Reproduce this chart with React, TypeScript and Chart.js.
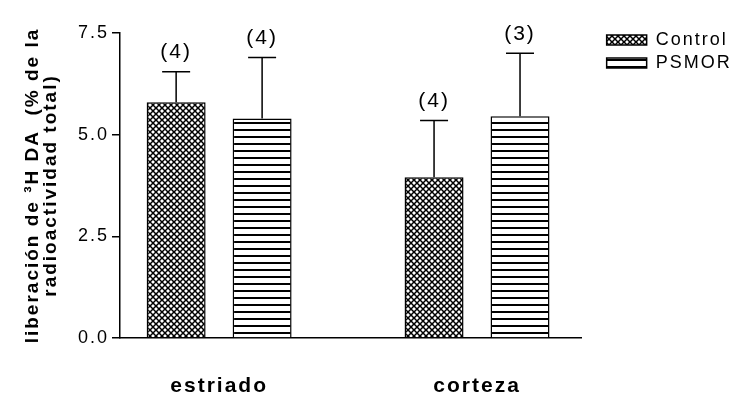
import React, { useEffect, useRef } from "react";
import { Chart, registerables } from "chart.js";

Chart.register(...registerables);

// ---- data ----
const categories = ["estriado", "corteza"];
const seriesLabels = ["Control", "PSMOR"];
const controlValues = [5.8, 3.95];
const controlErrors = [0.75, 1.4];
const controlN = ["(4)", "(4)"];
const psmorValues = [5.4, 5.45];
const psmorErrors = [1.5, 1.55];
const psmorN = ["(4)", "(3)"];
const yTickValues = [0, 2.5, 5, 7.5];
const yAxisTitle = ["liberación de ³H DA  (% de la", "radioactividad total)"];

const FONT = '"Liberation Sans", Arial, Helvetica, sans-serif';
const SPACING = "2px";

// slot on the linear x scale: group g, series s
const slot = (g: number, s: number) => g * 3 + s + 1;
const groupCenter = (g: number) => g * 3 + 1.5;

function makeCrossHatch(): CanvasPattern | string {
  const c = document.createElement("canvas");
  c.width = 6;
  c.height = 6;
  const g = c.getContext("2d");
  if (!g) return "#888";
  g.fillStyle = "#fff";
  g.fillRect(0, 0, 6, 6);
  g.strokeStyle = "#000";
  g.lineWidth = 1.5;
  g.beginPath();
  g.moveTo(-1, -1);
  g.lineTo(7, 7);
  g.moveTo(-1, 7);
  g.lineTo(7, -1);
  g.stroke();
  return g.createPattern(c, "repeat") || "#888";
}

function makeHLines(): CanvasPattern | string {
  const c = document.createElement("canvas");
  c.width = 8;
  c.height = 7;
  const g = c.getContext("2d");
  if (!g) return "#ccc";
  g.fillStyle = "#fff";
  g.fillRect(0, 0, 8, 7);
  g.fillStyle = "#000";
  g.fillRect(0, 3, 8, 2);
  return g.createPattern(c, "repeat") || "#ccc";
}

const errorsBySeries = [controlErrors, psmorErrors];
const nBySeries = [controlN, psmorN];

const spacingPlugin = {
  id: "letterSpacing",
  beforeUpdate(chart: any) {
    chart.ctx.letterSpacing = SPACING;
  },
  afterLayout(chart: any) {
    // measureText ignores letter spacing: let the legend box reach the canvas edge
    const lg = chart.legend;
    if (lg) {
      lg.right = chart.width;
      lg.width = lg.right - lg.left;
    }
  },
  beforeDraw(chart: any) {
    chart.ctx.letterSpacing = SPACING;
  },
};

const errorBarPlugin = {
  id: "errorBars",
  afterDatasetsDraw(chart: any) {
    const ctx = chart.ctx;
    const yScale = chart.scales.y;
    chart.data.datasets.forEach((ds: any, di: number) => {
      const meta = chart.getDatasetMeta(di);
      if (meta.hidden) return;
      meta.data.forEach((bar: any, i: number) => {
        const v = ds.data[i].y;
        const topY = yScale.getPixelForValue(v + errorsBySeries[di][i]);
        const x = bar.x;
        ctx.save();
        ctx.strokeStyle = "#000";
        ctx.lineWidth = 1.5;
        ctx.beginPath();
        ctx.moveTo(x, bar.y);
        ctx.lineTo(x, topY);
        ctx.moveTo(x - 14, topY);
        ctx.lineTo(x + 14, topY);
        ctx.stroke();
        ctx.fillStyle = "#000";
        ctx.font = `21px ${FONT}`;
        ctx.textAlign = "center";
        ctx.textBaseline = "bottom";
        ctx.fillText(nBySeries[di][i], x, topY - 9);
        ctx.restore();
      });
    });
  },
};

export default function App() {
  const canvasRef = useRef<HTMLCanvasElement | null>(null);

  useEffect(() => {
    const canvas = canvasRef.current;
    if (!canvas) return;
    const cross = makeCrossHatch();
    const lines = makeHLines();

    const chart = new Chart(canvas, {
      type: "bar",
      data: {
        datasets: [
          {
            label: seriesLabels[0],
            data: categories.map((_, g) => ({ x: slot(g, 0), y: controlValues[g] })),
            backgroundColor: cross as any,
            borderColor: "#000",
            borderWidth: 1.5,
            grouped: false,
            barPercentage: 0.686,
            categoryPercentage: 1,
          } as any,
          {
            label: seriesLabels[1],
            data: categories.map((_, g) => ({ x: slot(g, 1), y: psmorValues[g] })),
            backgroundColor: lines as any,
            borderColor: "#000",
            borderWidth: 1.5,
            grouped: false,
            barPercentage: 0.686,
            categoryPercentage: 1,
          } as any,
        ],
      },
      options: {
        responsive: false,
        animation: false,
        devicePixelRatio: 1,
        layout: { padding: { top: 26, right: 30, left: 0, bottom: 0 } },
        plugins: {
          tooltip: { enabled: false },
          legend: {
            position: "right",
            align: "start",
            labels: {
              boxWidth: 40,
              boxHeight: 10,
              padding: 5,
              color: "#000",
              font: { size: 18, family: FONT },
            },
          },
        },
        scales: {
          x: {
            type: "linear",
            offset: false,
            min: 0.347,
            max: 5.717,
            grid: { display: false, drawTicks: false, offset: false },
            border: { display: true, color: "#000", width: 1.5 },
            afterBuildTicks: (scale: any) => {
              scale.ticks = categories.map((_, g) => ({ value: groupCenter(g) }));
            },
            ticks: {
              padding: 36,
              color: "#000",
              font: { size: 21, weight: "bold", family: FONT },
              callback: (_v: any, index: number) => categories[index],
            },
            afterFit: (scale: any) => {
              scale.height = 63;
            },
          },
          y: {
            type: "linear",
            min: 0,
            max: 7.5,
            afterBuildTicks: (scale: any) => {
              scale.ticks = yTickValues.map((v) => ({ value: v }));
            },
            grid: {
              drawOnChartArea: false,
              drawTicks: true,
              tickLength: 8,
              color: "#000",
              lineWidth: 1.5,
            },
            border: { display: true, color: "#000", width: 1.5 },
            ticks: {
              padding: 3,
              color: "#000",
              font: { size: 18, family: FONT },
              callback: (v: any) => Number(v).toFixed(1),
            },
            title: {
              display: true,
              text: yAxisTitle,
              color: "#000",
              padding: { top: 24, bottom: 0 },
              font: { size: 19, weight: "bold", family: FONT, lineHeight: "18px" },
            },
            afterFit: (scale: any) => {
              scale.width = 120;
            },
          },
          padTop: {
            type: "linear",
            position: "top",
            display: true,
            grid: { display: false, drawTicks: false },
            border: { display: false },
            ticks: { display: false },
            afterFit: (scale: any) => {
              scale.height = 7;
            },
          },
          padRight: {
            type: "linear",
            position: "right",
            display: true,
            grid: { display: false, drawTicks: false },
            border: { display: false },
            ticks: { display: false },
            afterFit: (scale: any) => {
              scale.width = 20;
            },
          },
        } as any,
      },
      plugins: [spacingPlugin, errorBarPlugin],
    });

    return () => {
      chart.destroy();
    };
  }, []);

  return (
    <div style={{ position: "fixed", left: 0, top: 0, width: 752, height: 401, background: "#fff" }}>
      <canvas ref={canvasRef} width={752} height={401} style={{ display: "block" }} />
    </div>
  );
}
